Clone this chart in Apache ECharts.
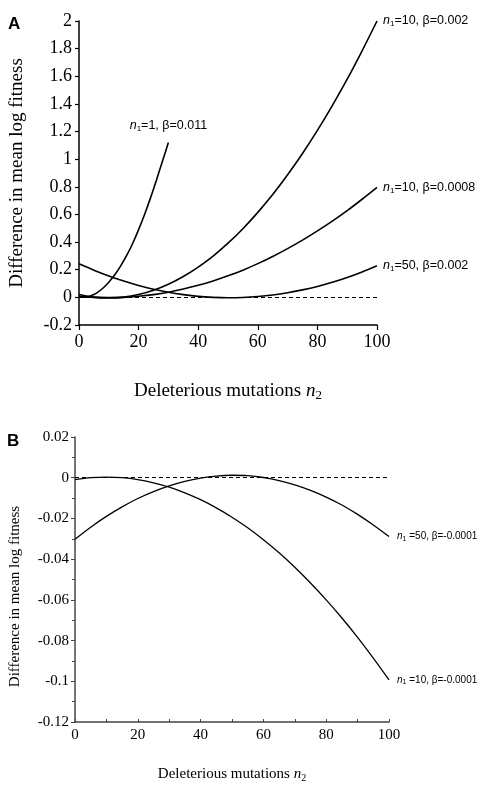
<!DOCTYPE html>
<html>
<head>
<meta charset="utf-8">
<script src="https://cdn.jsdelivr.net/npm/echarts@6/dist/echarts.min.js"></script>
<style>
html,body{margin:0;padding:0;background:#fff;}
#chart{width:484px;height:786px;}
</style>
</head>
<body>
<div id="chart"></div>
<script>
// ---------- Panel A data ----------
const xA1 = [0, 2, 4, 6, 8, 10, 12, 14, 16, 18, 20, 22, 24, 26, 28, 30];
const yA1 = [0.003, 0.002, 0.012, 0.033, 0.066, 0.110, 0.163, 0.228, 0.303, 0.390, 0.490, 0.600, 0.720, 0.850, 0.985, 1.120]; // n1=1, beta=0.011

const xA = [0, 5, 10, 15, 20, 25, 30, 35, 40, 45, 50, 55, 60, 65, 70, 75, 80, 85, 90, 95, 100];
const yA2 = [0.021, 0.002, -0.004, 0.002, 0.021, 0.052, 0.095, 0.151, 0.219, 0.299, 0.392, 0.497, 0.615, 0.744, 0.887, 1.041, 1.208, 1.388, 1.579, 1.784, 2.000]; // n1=10, beta=0.002
const yA3 = [0.008, 0.000, -0.002, 0.000, 0.008, 0.020, 0.037, 0.060, 0.087, 0.119, 0.156, 0.197, 0.244, 0.296, 0.353, 0.414, 0.481, 0.552, 0.628, 0.710, 0.796]; // n1=10, beta=0.0008
const yA4 = [0.243, 0.197, 0.155, 0.118, 0.086, 0.059, 0.037, 0.020, 0.007, 0.000, -0.003, -0.001, 0.006, 0.017, 0.033, 0.054, 0.079, 0.109, 0.144, 0.184, 0.229]; // n1=50, beta=0.002

// ---------- Panel B data ----------
const xB = [0, 5, 10, 15, 20, 25, 30, 35, 40, 45, 50, 55, 60, 65, 70, 75, 80, 85, 90, 95, 100];
const yB1 = [-0.0302, -0.0243, -0.0190, -0.0143, -0.0102, -0.0068, -0.0040, -0.0018, -0.0002, 0.0008, 0.0012, 0.0010, 0.0001, -0.0014, -0.0035, -0.0062, -0.0095, -0.0134, -0.0180, -0.0232, -0.0289]; // n1=50, beta=-0.0001
const yB2 = [-0.0009, 0.0000, 0.0003, 0.0000, -0.0009, -0.0025, -0.0046, -0.0074, -0.0108, -0.0148, -0.0194, -0.0246, -0.0305, -0.0369, -0.0440, -0.0517, -0.0600, -0.0689, -0.0784, -0.0886, -0.0993]; // n1=10, beta=-0.0001

// ---------- Texts ----------
const panelLetters = ['A', 'B'];
const yName = 'Difference in mean log fitness';
const xNameRich = 'Deleterious mutations {i|n}{s|2}';
const labelsA = ['{i|n}{s|1}=1, β=0.011', '{i|n}{s|1}=10, β=0.002', '{i|n}{s|1}=10, β=0.0008', '{i|n}{s|1}=50, β=0.002'];
const labelsB = ['{i|n}{s|1} =50, β=-0.0001', '{i|n}{s|1} =10, β=-0.0001'];

const SERIF = 'Liberation Serif, Times New Roman, serif';
const SANS = 'Liberation Sans, Arial, sans-serif';

function richSmall(fs, sub) {
  return {
    i: { fontStyle: 'italic', fontFamily: SANS, fontSize: fs, color: '#000' },
    s: { fontFamily: SANS, fontSize: sub, color: '#000', padding: [Math.round(fs * 0.45), 0, 0, 0] }
  };
}

function makeData(xs, ys, labelText, pos, fs, dist) {
  return xs.map((x, k) => {
    const item = { value: [x, ys[k]] };
    if (k === xs.length - 1) {
      item.label = {
        show: true, position: pos, distance: dist,
        formatter: labelText, fontFamily: SANS, fontSize: fs, color: '#000',
        rich: richSmall(fs, Math.round(fs * 0.65))
      };
    }
    return item;
  });
}

function lineSeries(xi, yi, xs, ys, labelText, pos, fs, dist, width, withZero) {
  const s = {
    type: 'line', xAxisIndex: xi, yAxisIndex: yi, smooth: 0.3,
    symbol: 'circle', symbolSize: 0, showSymbol: true,
    itemStyle: { color: '#000' },
    lineStyle: { color: '#000', width: width },
    label: { show: false },
    data: makeData(xs, ys, labelText, pos, fs, dist),
    z: 3, silent: true
  };
  if (withZero) {
    s.markLine = {
      silent: true, symbol: 'none', label: { show: false },
      lineStyle: { color: '#000', width: 1, type: [4, 3] },
      data: [{ yAxis: 0 }]
    };
  }
  return s;
}

const chart = echarts.init(document.getElementById('chart'), null, { renderer: 'canvas' });

const option = {
  backgroundColor: '#fff',
  animation: false,
  title: [
    { text: panelLetters[0], left: 3, top: 11, textStyle: { fontFamily: SANS, fontWeight: 'bold', fontSize: 17, color: '#000' } },
    { text: panelLetters[1], left: 2, top: 428, textStyle: { fontFamily: SANS, fontWeight: 'bold', fontSize: 17, color: '#000' } }
  ],
  grid: [
    { left: 76, right: 107, top: 21, bottom: 461 },
    { left: 73, right: 95, top: 437, bottom: 64 }
  ],
  xAxis: [
    {
      gridIndex: 0, type: 'value', min: 0, max: 100, interval: 20,
      name: xNameRich, nameLocation: 'middle', nameGap: 55,
      nameTextStyle: { fontFamily: SERIF, fontSize: 19, color: '#000',
        rich: { i: { fontFamily: SERIF, fontStyle: 'italic', fontSize: 19, color: '#000' },
                s: { fontFamily: SERIF, fontSize: 13, color: '#000', padding: [9, 0, 0, 0] } } },
      axisLine: { show: true, onZero: false, lineStyle: { color: '#000', width: 1.5 } },
      axisTick: { show: true, inside: false, length: 5, lineStyle: { color: '#000', width: 1.2 } },
      axisLabel: { fontFamily: SERIF, fontSize: 18, color: '#000', margin: 8 },
      splitLine: { show: false }
    },
    {
      gridIndex: 1, type: 'value', min: 0, max: 100, interval: 20,
      name: xNameRich, nameLocation: 'middle', nameGap: 44,
      nameTextStyle: { fontFamily: SERIF, fontSize: 15, color: '#000',
        rich: { i: { fontFamily: SERIF, fontStyle: 'italic', fontSize: 15, color: '#000' },
                s: { fontFamily: SERIF, fontSize: 10, color: '#000', padding: [7, 0, 0, 0] } } },
      axisLine: { show: true, onZero: false, lineStyle: { color: '#444', width: 1.5 } },
      axisTick: { show: true, inside: true, length: 3, lineStyle: { color: '#444', width: 1 } },
      minorTick: { show: true, splitNumber: 2, length: 3, lineStyle: { color: '#444', width: 1 } },
      axisLabel: { fontFamily: SERIF, fontSize: 15, color: '#000', margin: 6 },
      splitLine: { show: false }
    }
  ],
  yAxis: [
    {
      gridIndex: 0, type: 'value', min: -0.2, max: 2, interval: 0.2,
      name: yName, nameLocation: 'middle', nameGap: 52,
      nameTextStyle: { fontFamily: SERIF, fontSize: 19, color: '#000' },
      axisLine: { show: true, onZero: false, lineStyle: { color: '#000', width: 1.5 } },
      axisTick: { show: true, inside: false, length: 4, lineStyle: { color: '#000', width: 1.2 } },
      axisLabel: { fontFamily: SERIF, fontSize: 18, color: '#000', margin: 7 },
      splitLine: { show: false }
    },
    {
      gridIndex: 1, type: 'value', min: -0.12, max: 0.02, interval: 0.02,
      name: yName, nameLocation: 'middle', nameGap: 52,
      nameTextStyle: { fontFamily: SERIF, fontSize: 15, color: '#000', padding: [0, 34, 0, 0] },
      axisLine: { show: true, onZero: false, lineStyle: { color: '#444', width: 1.5 } },
      axisTick: { show: true, inside: false, length: 4, lineStyle: { color: '#444', width: 1 } },
      minorTick: { show: true, splitNumber: 2, length: 3, lineStyle: { color: '#444', width: 1 } },
      axisLabel: { fontFamily: SERIF, fontSize: 15, color: '#000', margin: 6 },
      splitLine: { show: false }
    }
  ],
  series: [
    lineSeries(0, 0, xA1, yA1, labelsA[0], 'top', 12.5, 10, 1.6, true),
    lineSeries(0, 0, xA, yA2, labelsA[1], 'right', 12.5, 6, 1.6, false),
    lineSeries(0, 0, xA, yA3, labelsA[2], 'right', 12.5, 6, 1.6, false),
    lineSeries(0, 0, xA, yA4, labelsA[3], 'right', 12.5, 6, 1.6, false),
    lineSeries(1, 1, xB, yB1, labelsB[0], 'right', 10, 8, 1.3, true),
    lineSeries(1, 1, xB, yB2, labelsB[1], 'right', 10, 8, 1.3, false)
  ]
};
chart.setOption(option);
</script>
</body>
</html>
